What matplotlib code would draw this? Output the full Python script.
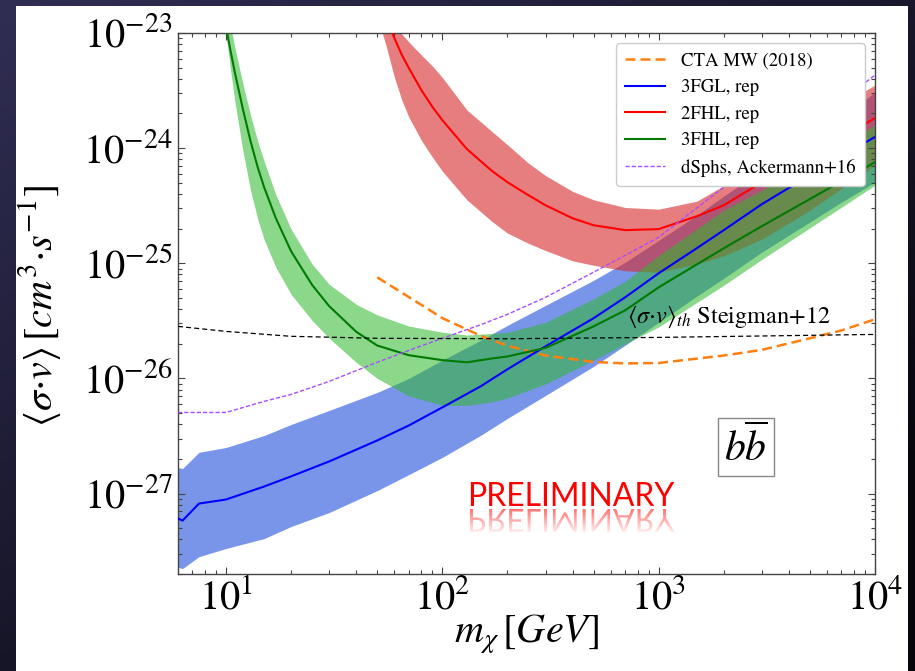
import numpy as np
import matplotlib
matplotlib.use("Agg")
import matplotlib.pyplot as plt
from matplotlib.font_manager import FontProperties
from matplotlib.patches import PathPatch, Rectangle
from matplotlib.path import Path
from matplotlib.textpath import TextPath

plt.rcParams.update({
    "font.family": "STIXGeneral",
    "mathtext.fontset": "stix",
})

# 3FGL, rep (blue)
MASS_3FGL = [6, 6.3, 7.5, 10, 15, 20, 30, 50, 70, 100, 150, 200, 300, 500, 700,
             1000, 1500, 2000, 3000, 5000, 7000, 10000]
SV_3FGL = [6.07e-28, 5.82e-28, 8.18e-28, 8.87e-28, 1.15e-27, 1.41e-27, 1.90e-27,
           2.89e-27, 3.90e-27, 5.60e-27, 8.51e-27, 1.20e-26, 1.90e-26, 3.33e-26,
           5.06e-26, 8.19e-26, 1.35e-25, 1.94e-25, 3.26e-25, 5.82e-25, 8.51e-25, 1.25e-24]
UP_3FGL = [1.68e-27, 1.65e-27, 2.28e-27, 2.51e-27, 3.19e-27, 3.98e-27, 5.27e-27,
           7.55e-27, 1.00e-26, 1.44e-26, 2.14e-26, 2.89e-26, 4.31e-26, 7.11e-26,
           1.02e-25, 1.58e-25, 2.61e-25, 3.83e-25, 6.44e-25, 1.17e-24, 1.82e-24, 3.07e-24]
LO_3FGL = [2.28e-28, 2.23e-28, 2.83e-28, 3.33e-28, 4.06e-28, 5.17e-28, 6.84e-28,
           1.06e-27, 1.46e-27, 2.06e-27, 3.19e-27, 4.49e-27, 7.11e-27, 1.27e-26,
           1.94e-26, 3.07e-26, 5.17e-26, 7.41e-26, 1.25e-25, 2.28e-25, 3.39e-25, 5.06e-25]

# 2FHL, rep (red)
MASS_2FHL = [52, 55, 60, 65, 70, 80, 90, 100, 130, 170, 200, 250, 300, 400, 500,
             700, 1000, 1500, 2000, 3000, 5000, 10000]
SV_2FHL = [2.2e-23, 1.38e-23, 9.05e-24, 6.44e-24, 4.97e-24, 3.19e-24, 2.28e-24,
           1.75e-24, 9.8e-25, 6.31e-25, 5.06e-25, 3.90e-25, 3.19e-25, 2.46e-25,
           2.14e-25, 1.94e-25, 1.98e-25, 2.56e-25, 3.19e-25, 5.06e-25, 8.69e-25, 1.82e-24]
UP_2FHL = [3.0e-23, 2.0e-23, 1.17e-23, 9.8e-24, 8.35e-24, 6.44e-24, 5.16e-24,
           4.11e-24, 2.14e-24, 1.39e-24, 1.07e-24, 7.41e-25, 5.78e-25, 4.21e-25,
           3.56e-25, 3.05e-25, 2.95e-25, 3.46e-25, 4.72e-25, 7.71e-25, 1.65e-24, 3.53e-24]
LO_2FHL = [1.1e-23, 7.71e-24, 4.14e-24, 2.61e-24, 1.86e-24, 1.17e-24, 8.35e-25,
           6.31e-25, 3.55e-25, 2.30e-25, 1.83e-25, 1.49e-25, 1.29e-25, 1.05e-25,
           9.61e-26, 8.6e-26, 8.36e-26, 9.84e-26, 1.16e-25, 1.62e-25, 2.89e-25, 7.11e-25]

# 3FHL, rep (green)
MASS_3FHL = [9.5, 10, 10.5, 11, 12, 13, 14, 15, 17, 20, 25, 30, 40, 50, 70, 100,
             130, 170, 200, 300, 500, 700, 1000, 2000, 3000, 5000, 10000]
SV_3FHL = [2.0e-23, 1.13e-23, 6.97e-24, 4.49e-24, 2.14e-24, 1.14e-24, 6.87e-25,
           4.58e-25, 2.46e-25, 1.27e-25, 6.49e-26, 4.24e-26, 2.54e-26, 1.93e-26,
           1.59e-26, 1.44e-26, 1.38e-26, 1.49e-26, 1.55e-26, 1.84e-26, 2.83e-26,
           3.90e-26, 6.18e-26, 1.35e-25, 2.10e-25, 3.61e-25, 7.55e-25]
UP_3FHL = [3.0e-23, 1.58e-23, 1.15e-23, 7.41e-24, 3.55e-24, 1.91e-24, 1.16e-24,
           7.71e-25, 3.94e-25, 1.98e-25, 9.86e-26, 6.56e-26, 4.40e-26, 3.56e-26,
           2.85e-26, 2.52e-26, 2.38e-26, 2.46e-26, 2.51e-26, 3.07e-26, 4.91e-26,
           6.97e-26, 1.17e-25, 2.89e-25, 4.31e-25, 7.41e-25, 1.58e-24]
LO_3FHL = [1.3e-23, 1.00e-23, 4.76e-24, 2.51e-24, 9.23e-25, 4.27e-25, 2.44e-25,
           1.61e-25, 9.23e-26, 5.37e-26, 3.19e-26, 2.23e-26, 1.38e-26, 1.00e-26,
           7.03e-27, 5.85e-27, 5.82e-27, 6.25e-27, 6.76e-27, 8.95e-27, 1.44e-26,
           1.99e-26, 2.80e-26, 6.44e-26, 1.08e-25, 2.03e-25, 4.76e-25]

# CTA MW (2018)
MASS_CTA = [50, 70, 100, 150, 200, 300, 500, 700, 1000, 2000, 3000, 5000, 7000, 10000]
SV_CTA = [7.55e-26, 5.09e-26, 3.34e-26, 2.35e-26, 1.92e-26, 1.58e-26, 1.39e-26,
          1.35e-26, 1.36e-26, 1.58e-26, 1.77e-26, 2.23e-26, 2.61e-26, 3.26e-26]

# dSphs, Ackermann+16
MASS_DSPH = [6, 10, 15, 20, 30, 50, 70, 100, 150, 200, 300, 500, 700, 1000,
             2000, 3000, 5000, 10000]
SV_DSPH = [5.06e-27, 5.06e-27, 6.31e-27, 7.26e-27, 9.42e-27, 1.38e-26, 1.75e-26,
           2.23e-26, 2.92e-26, 3.60e-26, 5.06e-26, 8.36e-26, 1.17e-25, 1.68e-25,
           4.58e-25, 7.87e-25, 1.58e-24, 4.31e-24]

# thermal relic, Steigman+12
MASS_TH = [6, 10, 20, 50, 200, 1000, 10000]
SV_TH = [2.83e-26, 2.56e-26, 2.32e-26, 2.23e-26, 2.21e-26, 2.27e-26, 2.41e-26]

W, H = 915, 671
fig = plt.figure(figsize=(W / 100, H / 100), dpi=100, facecolor="#151528")

# slide background: dark vignette + white page
bg = fig.add_axes([0, 0, 1, 1], zorder=0)
bg.axis("off")
gx, gy = np.meshgrid(np.linspace(0, 1, 200), np.linspace(0, 1, 150))
t = np.clip(0.55 * gx + 0.6 * gy, 0, 1)[..., None]
c_top = np.array([0.19, 0.18, 0.33])
c_bot = np.array([0.02, 0.02, 0.04])
bg.imshow(c_top * (1 - t) + c_bot * t, extent=[0, W, H, 0], aspect="auto")
bg.add_patch(Rectangle((16, 6), 892, 670, facecolor="white", edgecolor="none"))
bg.set_xlim(0, W)
bg.set_ylim(H, 0)

ax = fig.add_axes([178 / W, 1 - 574 / H, 697 / W, 541 / H], zorder=1)
ax.set_xscale("log")
ax.set_yscale("log")

ax.fill_between(MASS_3FGL, LO_3FGL, UP_3FGL, color="royalblue", alpha=0.7, lw=0, zorder=1)
ax.fill_between(MASS_2FHL, LO_2FHL, UP_2FHL, color="tab:red", alpha=0.6, lw=0, zorder=1)
ax.fill_between(MASS_3FHL, LO_3FHL, UP_3FHL, color="#2db82d", alpha=0.55, lw=0, zorder=1)

ax.plot(MASS_CTA, SV_CTA, color="#ff7f0e", ls=(0, (4, 2)), lw=1.8, label="CTA MW (2018)", zorder=3)
ax.plot(MASS_3FGL, SV_3FGL, color="#0000ff", lw=1.5, label="3FGL, rep", zorder=3)
ax.plot(MASS_2FHL, SV_2FHL, color="#ff0000", lw=1.5, label="2FHL, rep", zorder=3)
ax.plot(MASS_3FHL, SV_3FHL, color="#007a00", lw=1.5, label="3FHL, rep", zorder=3)
ax.plot(MASS_DSPH, SV_DSPH, color="#a64dff", ls=(0, (3, 1.5)), lw=1.0,
        label="dSphs, Ackermann+16", zorder=3)
ax.plot(MASS_TH, SV_TH, color="black", ls=(0, (4, 2.5)), lw=0.9, zorder=3)

ax.set_xlim(6, 1e4)
ax.set_ylim(2e-28, 1e-23)

ax.tick_params(which="both", direction="in", top=True, right=True,
               color="#444444", width=0.8)
ax.tick_params(which="major", length=5, labelsize=29, pad=4)
ax.tick_params(which="minor", length=3)
for s in ax.spines.values():
    s.set_color("#444444")
    s.set_linewidth(1.0)

ax.set_xlabel(r"$m_\chi\,[GeV]$", fontsize=29)
ax.xaxis.set_label_coords(0.5, -0.07)
ax.set_ylabel(r"$\langle\sigma{\cdot}v\rangle\,[cm^3{\cdot}s^{-1}]$", fontsize=29)
ax.yaxis.set_label_coords(-0.165, 0.495)

ax.text(0.644, 0.464, r"$\langle\sigma{\cdot}v\rangle_{th}$ Steigman+12",
        transform=ax.transAxes, fontsize=17.5, va="baseline", ha="left", zorder=4)
ax.text(0.815, 0.235, r"$b\overline{b}$", transform=ax.transAxes, fontsize=30,
        ha="center", va="center", zorder=4,
        bbox=dict(boxstyle="square,pad=0.15", facecolor="white", edgecolor="#888888", lw=1))

ax.legend(loc="upper right", fontsize=13.5, handlelength=2.1, handletextpad=0.85,
          labelspacing=0.5, borderpad=0.5, borderaxespad=0.55, framealpha=1.0,
          edgecolor="#cccccc")

# PRELIMINARY stamp with its reflection
ov = fig.add_axes([0, 0, 1, 1], zorder=2)
ov.axis("off")
PRELIM_SIZE = 23
x0, base = 467, 506
ov.text(x0, base, "PRELIMINARY", fontsize=PRELIM_SIZE, family="Lato",
        color="#ff0000", ha="left", va="baseline")
tp = TextPath((0, 0), "PRELIMINARY", size=PRELIM_SIZE * 100 / 72,
              prop=FontProperties(family="Lato"))
v = tp.vertices
refl = Path(np.column_stack([x0 + v[:, 0], base + 3 + v[:, 1]]), tp.codes)
patch = PathPatch(refl, facecolor="none", edgecolor="none")
ov.add_patch(patch)
grad = np.zeros((64, 2, 4))
grad[..., 0] = 1.0
grad[..., 3] = np.linspace(0.55, 0.0, 64)[:, None]
im = ov.imshow(grad, extent=[x0, x0 + 220, base + 30, base + 3], aspect="auto",
               interpolation="bilinear")
im.set_clip_path(patch)
ov.set_xlim(0, W)
ov.set_ylim(H, 0)

fig.savefig("out.png", dpi=100, facecolor=fig.get_facecolor())
